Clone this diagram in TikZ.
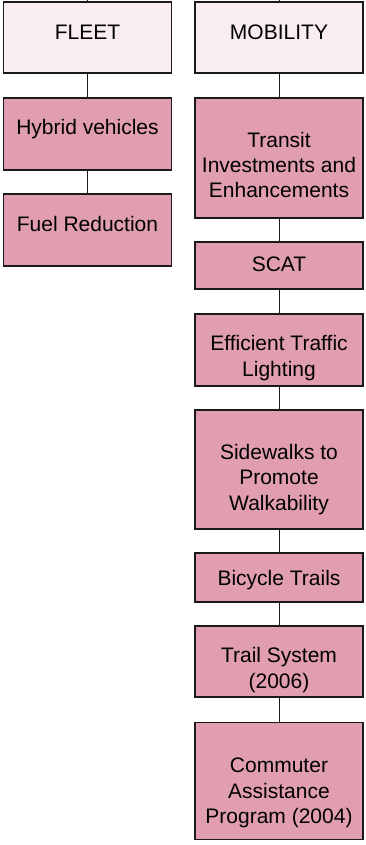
\documentclass[tikz,border=0pt]{standalone}
\usepackage{fontspec}
\setmainfont{Liberation Sans}
\usepackage{xcolor}
\usepackage{tikz}
\usetikzlibrary{positioning}
\definecolor{pale}{HTML}{F9EDF1}
\definecolor{rose}{HTML}{E09EB0}
\definecolor{edge}{HTML}{1A1A1A}
\tikzset{
  box/.style={draw=edge, line width=1.3pt, minimum width=168pt, inner sep=0pt},
  head/.style={box, fill=pale, minimum height=71pt},
  item/.style={box, fill=rose},
  lab/.style={inner sep=0pt, align=center, font=\fontsize{21}{25.3}\selectfont},
  link/.style={draw=edge, line width=1pt},
}
\begin{document}
\begin{tikzpicture}[x=1pt,y=-1pt]
\useasboundingbox (0,0) rectangle (366,845);

% heads
\node[head, label={[lab, yshift=5.5pt]center:FLEET}] (fleet) at (87.5,37.5) {};
\node[head, label={[lab, yshift=5.5pt]center:MOBILITY}] (mobility) at (279,37.5) {};
\coordinate (fleettop) at (87.5,0);
\coordinate (mobilitytop) at (279,0);

% fleet column
\node[item, minimum height=72pt, label={[lab, yshift=4.5pt]center:Hybrid vehicles}] (hybrid) at (87.5,134) {};
\node[item, minimum height=72pt, label={[lab, yshift=6.5pt]center:Fuel Reduction}] (fuel) at (87.5,230) {};

% mobility column
\node[item, minimum height=120pt, label={[lab, yshift=-7pt]center:{Transit\\Investments and\\Enhancements}}] (transit) at (279,158) {};
\node[item, minimum height=47pt, label={[lab, yshift=1pt]center:SCAT}] (scat) at (279,265.5) {};
\node[item, minimum height=72pt, label={[lab, yshift=-8pt]center:{Efficient Traffic\\Lighting}}] (traffic) at (279,350) {};
\node[item, minimum height=119pt, label={[lab, yshift=-10pt]center:{Sidewalks to\\Promote\\Walkability}}] (sidewalks) at (279,469.5) {};
\node[item, minimum height=49pt, label={[lab, yshift=-2.5pt]center:Bicycle Trails}] (bicycle) at (279,577.5) {};
\node[item, minimum height=71pt, label={[lab, yshift=-8.5pt]center:{Trail System\\(2006)}}] (trail) at (279,661.5) {};
\node[item, minimum height=117pt, label={[lab, yshift=-12pt]center:{Commuter\\Assistance\\Program (2004)}}] (commuter) at (279,781) {};

% links
\draw[link] (fleettop) -- (fleet);
\draw[link] (mobilitytop) -- (mobility);
\draw[link] (fleet) -- (hybrid);
\draw[link] (hybrid) -- (fuel);
\draw[link] (mobility) -- (transit);
\draw[link] (transit) -- (scat);
\draw[link] (scat) -- (traffic);
\draw[link] (traffic) -- (sidewalks);
\draw[link] (sidewalks) -- (bicycle);
\draw[link] (bicycle) -- (trail);
\draw[link] (trail) -- (commuter);
\end{tikzpicture}
\end{document}
